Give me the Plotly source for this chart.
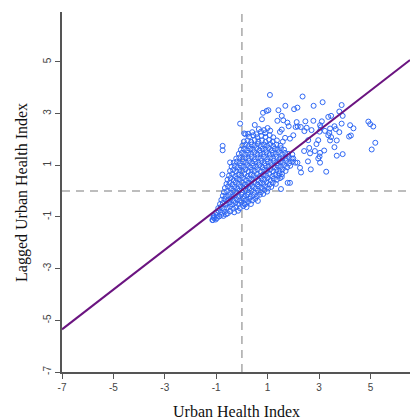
import plotly.graph_objects as go
import numpy as np

# Moran scatter: Urban Health Index (x) vs spatially lagged value (y)
# dense core of the cluster (x, y)
core_pts = [
    (-1.13,-1.12),(-1.08,-1.05),(-1.02,-1.10),(-0.97,-1.04),
    (-1.10,-0.97),(-0.98,-0.93),(-0.88,-0.98),(-0.80,-0.92),(-0.72,-0.96),(-0.62,-0.90),
    (-1.00,-0.82),(-0.90,-0.78),(-0.78,-0.84),(-0.66,-0.80),(-0.55,-0.86),(-0.45,-0.78),(-0.30,-0.82),(-0.15,-0.76),
    (-0.92,-0.66),(-0.82,-0.62),(-0.70,-0.68),(-0.58,-0.64),(-0.46,-0.60),(-0.34,-0.68),(-0.22,-0.62),(-0.08,-0.66),(0.05,-0.58),(0.18,-0.62),(0.12,-0.52),
    (-0.85,-0.50),(-0.74,-0.46),(-0.62,-0.52),(-0.50,-0.45),(-0.38,-0.52),(-0.26,-0.46),(-0.14,-0.50),(-0.02,-0.44),(0.10,-0.48),(0.24,-0.42),(0.35,-0.50),
    (-0.80,-0.34),(-0.68,-0.30),(-0.56,-0.36),(-0.44,-0.30),(-0.32,-0.38),(-0.20,-0.32),(-0.08,-0.36),(0.04,-0.28),(0.16,-0.34),(0.28,-0.30),(0.40,-0.36),(0.52,-0.30),(0.62,-0.38),
    (-0.74,-0.18),(-0.62,-0.22),(-0.50,-0.16),(-0.38,-0.22),(-0.26,-0.16),(-0.14,-0.22),(-0.02,-0.14),(0.10,-0.20),(0.22,-0.14),(0.34,-0.22),(0.46,-0.16),(0.58,-0.20),(0.70,-0.14),(0.83,-0.11),
    (-0.70,-0.04),(-0.58,0.00),(-0.46,-0.06),(-0.34,0.02),(-0.22,-0.04),(-0.10,0.02),(0.02,-0.06),(0.14,0.02),(0.26,-0.04),(0.38,0.02),(0.50,-0.06),(0.62,0.02),(0.74,-0.04),(0.88,0.04),(0.98,-0.02),
    (-0.66,0.12),(-0.54,0.18),(-0.42,0.10),(-0.30,0.16),(-0.18,0.10),(-0.06,0.18),(0.06,0.12),(0.18,0.18),(0.30,0.10),(0.42,0.16),(0.54,0.10),(0.66,0.18),(0.78,0.12),(0.90,0.18),(1.02,0.10),(1.14,0.16),
    (-0.60,0.28),(-0.48,0.32),(-0.36,0.26),(-0.24,0.34),(-0.12,0.28),(0.00,0.34),(0.12,0.26),(0.24,0.32),(0.36,0.28),(0.48,0.34),(0.60,0.26),(0.72,0.32),(0.84,0.28),(0.96,0.34),(1.08,0.26),(1.20,0.32),(1.32,0.28),
    (-0.56,0.44),(-0.44,0.50),(-0.32,0.42),(-0.20,0.48),(-0.08,0.44),(0.04,0.50),(0.16,0.42),(0.28,0.48),(0.40,0.44),(0.52,0.50),(0.64,0.42),(0.76,0.48),(0.88,0.44),(1.00,0.50),(1.12,0.42),(1.24,0.48),(1.36,0.44),(1.48,0.50),
    (-0.50,0.60),(-0.38,0.66),(-0.26,0.58),(-0.14,0.64),(-0.02,0.60),(0.10,0.66),(0.22,0.58),(0.34,0.64),(0.46,0.60),(0.58,0.66),(0.70,0.58),(0.82,0.64),(0.94,0.60),(1.06,0.66),(1.18,0.58),(1.30,0.64),(1.42,0.60),(1.56,0.66),
    (-0.46,0.78),(-0.34,0.82),(-0.22,0.76),(-0.10,0.82),(0.02,0.78),(0.14,0.84),(0.26,0.76),(0.38,0.82),(0.50,0.78),(0.62,0.84),(0.74,0.76),(0.86,0.82),(0.98,0.78),(1.10,0.84),(1.22,0.76),(1.34,0.82),(1.46,0.78),(1.58,0.84),(1.70,0.78),
    (-0.40,0.94),(-0.28,0.98),(-0.16,0.92),(-0.04,0.98),(0.08,0.94),(0.20,1.00),(0.32,0.92),(0.44,0.98),(0.56,0.94),(0.68,1.00),(0.80,0.92),(0.92,0.98),(1.04,0.94),(1.16,1.00),(1.28,0.92),(1.40,0.98),(1.52,0.94),(1.64,1.00),(1.76,0.92),(1.88,0.98),
    (-0.32,1.10),(-0.20,1.14),(-0.08,1.08),(0.04,1.14),(0.16,1.10),(0.28,1.16),(0.40,1.08),(0.52,1.14),(0.64,1.10),(0.76,1.16),(0.88,1.08),(1.00,1.14),(1.12,1.10),(1.24,1.16),(1.36,1.08),(1.48,1.14),(1.60,1.10),(1.72,1.16),(1.84,1.08),(1.96,1.14),(2.08,1.10),
    (-0.22,1.26),(-0.10,1.30),(0.02,1.24),(0.14,1.30),(0.26,1.26),(0.38,1.32),(0.50,1.24),(0.62,1.30),(0.74,1.26),(0.86,1.32),(0.98,1.24),(1.10,1.30),(1.22,1.26),(1.34,1.32),(1.46,1.24),(1.58,1.30),(1.70,1.26),(1.82,1.32),(1.94,1.26),
    (-0.12,1.44),(0.00,1.48),(0.12,1.42),(0.24,1.48),(0.36,1.44),(0.48,1.50),(0.60,1.42),(0.72,1.48),(0.84,1.44),(0.96,1.50),(1.08,1.42),(1.20,1.48),(1.32,1.44),(1.44,1.50),(1.56,1.42),(1.68,1.48),(1.80,1.44),
    (-0.04,1.60),(0.08,1.64),(0.20,1.58),(0.32,1.64),(0.44,1.60),(0.56,1.66),(0.68,1.58),(0.80,1.64),(0.92,1.60),(1.04,1.66),(1.16,1.58),(1.28,1.64),(1.40,1.60),(1.52,1.66),(1.64,1.60),
    (0.02,1.76),(0.14,1.80),(0.26,1.74),(0.38,1.80),(0.50,1.76),(0.62,1.82),(0.74,1.74),(0.86,1.80),(0.98,1.76),(1.10,1.82),(1.22,1.74),(1.34,1.80),(1.50,1.76),
    (0.08,1.92),(0.22,1.96),(0.36,1.90),(0.50,1.98),(0.64,1.92),(0.78,1.96),(0.92,1.90),(1.06,1.98),(1.20,1.92),(1.36,1.96),
    (0.14,2.20),(0.28,2.10),(0.44,2.16),(0.60,2.08),(0.76,2.14),(0.92,2.10),(1.08,2.16),(1.22,2.08),
    (0.24,2.22),(0.40,2.28),(0.56,2.20),(0.74,2.30),(0.90,2.24),(1.10,2.34),
    (0.50,2.56),(0.66,2.40),(1.00,2.44),(0.86,2.36),
]

# sparser points around and away from the core (x, y)
outer_pts = [
    (1.09,3.72),(2.36,3.66),(3.14,3.44),(3.88,3.33),(2.79,3.30),(1.69,3.30),(1.42,3.13),
    (2.16,3.23),(2.03,3.17),(1.03,3.13),(0.96,3.10),(0.82,3.03),(3.79,3.08),(3.92,2.91),
    (3.47,2.91),(3.36,2.87),(-0.07,2.61),(0.78,2.78),(1.55,2.91),(1.38,2.72),(1.61,2.74),
    (1.77,2.65),(1.82,2.51),(2.13,2.67),(2.17,2.50),(2.09,2.48),(2.47,2.70),(2.52,2.45),
    (2.78,2.72),(2.43,2.32),(2.29,2.48),(2.71,2.36),(3.11,2.70),(3.04,2.55),(3.07,2.47),
    (3.02,2.30),(3.23,2.33),(3.43,2.42),(3.60,2.51),(3.65,2.40),(3.79,2.28),(3.40,2.25),
    (3.47,2.09),(3.36,2.16),(3.88,2.61),(4.21,2.55),(4.34,2.43),(4.24,2.15),(4.17,2.11),
    (4.92,2.69),(4.99,2.59),(5.11,2.50),(5.19,1.87),(5.05,1.61),(3.92,1.43),(3.69,1.37),
    (3.60,1.70),(3.69,1.96),(3.43,1.96),(3.20,1.57),(3.04,1.48),(2.97,1.26),(3.04,1.10),
    (3.02,1.34),(3.28,0.75),(2.68,0.84),(2.57,1.15),(2.30,0.72),(2.26,0.90),(2.16,1.10),
    (2.00,1.26),(1.96,1.42),(2.42,1.55),(2.65,1.46),(2.62,1.67),(2.84,1.55),(2.90,1.82),
    (2.97,1.97),(2.58,1.97),(2.00,2.16),(1.87,2.03),(1.68,2.06),(1.59,1.91),(1.48,2.29),
    (1.55,2.38),(1.87,0.32),(1.78,0.32),(1.52,0.08),(1.55,0.55),(1.46,0.68),(-0.75,1.75),
    (-0.75,1.58),(-0.76,0.64),(-1.15,-1.12),(-1.10,-1.02),(-0.46,1.11),(0.09,2.23),
]

# fitted Moran line (lagged = intercept + slope * value)
slope = 0.77
intercept = 0.04

tick_vals = [-7, -5, -3, -1, 1, 3, 5]
tick_text = ["-7", "-5", "-3", "-1", "1", "3", "5"]

x_range = [-7, 6.54]
y_range = [-7, 6.93]

pts = core_pts + outer_pts
xs = [p[0] for p in pts]
ys = [p[1] for p in pts]

fig = go.Figure()

fig.add_trace(go.Scatter(
    x=xs, y=ys, mode="markers",
    marker=dict(symbol="circle-open", size=5, color="#3068f4", line=dict(width=1)),
    showlegend=False, hoverinfo="skip",
))

line_x = np.array(x_range)
fig.add_trace(go.Scatter(
    x=line_x, y=intercept + slope * line_x, mode="lines",
    line=dict(color="#6b1480", width=2),
    showlegend=False, hoverinfo="skip",
))

dash_style = dict(color="#a8a8a8", width=1.5, dash="8px,6px")
fig.add_shape(type="line", xref="x", yref="paper", x0=0, x1=0, y0=0, y1=1, line=dash_style, layer="below")
fig.add_shape(type="line", xref="paper", yref="y", x0=0, x1=1, y0=0, y1=0, line=dash_style, layer="below")

axis_common = dict(
    showgrid=False, zeroline=False,
    showline=True, linecolor="#555555", linewidth=1.5,
    ticks="outside", ticklen=5, tickwidth=1.2, tickcolor="#555555",
    tickvals=tick_vals, ticktext=tick_text,
    tickfont=dict(family="Liberation Sans, Arial", size=10, color="#444444"),
)

fig.update_xaxes(range=x_range, **axis_common)
fig.update_yaxes(range=y_range, tickangle=-90, **axis_common)

fig.update_layout(
    width=410, height=419,
    margin=dict(l=62, r=0, t=12, b=47, autoexpand=False),
    plot_bgcolor="white", paper_bgcolor="white",
    annotations=[
        dict(text="Urban Health Index", xref="paper", yref="paper", x=0.5, y=-0.111,
             xanchor="center", yanchor="middle", showarrow=False,
             font=dict(family="Liberation Serif, Times New Roman", size=16, color="#111111")),
        dict(text="Lagged Urban Health Index", xref="paper", yref="paper", x=-0.115, y=0.5,
             xanchor="center", yanchor="middle", showarrow=False, textangle=-90,
             font=dict(family="Liberation Serif, Times New Roman", size=16, color="#111111")),
    ],
)

# remove the default page margin so the figure fills the window exactly
fig.write_html(
    "out.html",
    config={"displayModeBar": False},
    post_script="document.body.style.margin='0px';document.body.style.overflow='hidden';",
)
